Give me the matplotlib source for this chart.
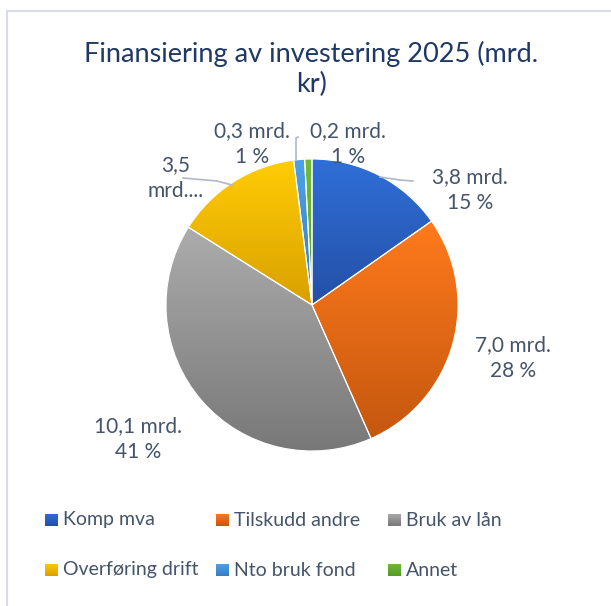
import numpy as np
import matplotlib
matplotlib.use('Agg')
import matplotlib.pyplot as plt
import matplotlib.patches as patches
from matplotlib.colors import LinearSegmentedColormap

plt.rcParams['font.family'] = ['Lato', 'DejaVu Sans']

# data
categories = ['Komp mva', 'Tilskudd andre', 'Bruk av lån',
              'Overføring drift', 'Nto bruk fond', 'Annet']
values = [3.8, 7.0, 10.1, 3.5, 0.3, 0.2]
value_labels = ['3,8 mrd.\n15 %', '7,0 mrd.\n28 %', '10,1 mrd.\n41 %',
                '3,5\nmrd....', '0,3 mrd.\n1 %', '0,2 mrd.\n1 %']
title = 'Finansiering av investering 2025 (mrd.\nkr)'

# gradient colours per slice (top, bottom)
grad = [('#2f6fd8', '#2450a6'),
        ('#ff7a1c', '#c4570f'),
        ('#acacac', '#787878'),
        ('#ffcc05', '#d9a000'),
        ('#4ea2e8', '#377dc4'),
        ('#72bb3a', '#559a28')]
txt_col = '#44546a'
W, H = 611, 606

fig = plt.figure(figsize=(W / 100, H / 100), dpi=100)
ax = fig.add_axes([0, 0, 1, 1])


def fill_grad(patch, c1, c2):
    cmap = LinearSegmentedColormap.from_list('g', [c2, c1])
    bb = patch.get_path().get_extents(patch.get_patch_transform())
    g = np.linspace(0, 1, 256).reshape(-1, 1)
    im = ax.imshow(g, cmap=cmap, origin='lower', aspect='auto',
                   extent=(bb.x0, bb.x1, bb.y0, bb.y1), zorder=1)
    im.set_clip_path(patch)
    patch.set_facecolor('none')
    patch.set_zorder(2)


cx, cy, R = 312, H - 305, 146
wedges, _ = ax.pie(values, center=(cx, cy), radius=R, startangle=90,
                   counterclock=False, frame=True,
                   wedgeprops=dict(linewidth=0.8, edgecolor='white'))

for w, (c1, c2) in zip(wedges, grad):
    fill_grad(w, c1, c2)

# data labels (layout positions in pixels)
label_pos = [(470, 190), (513, 358), (138, 439), (176, 178), (252, 144), (348, 144)]
for (x, y), s in zip(label_pos, value_labels):
    ax.text(x, H - y, s, ha='center', va='center', fontsize=15,
            color=txt_col, linespacing=1.4)

lc = '#aeb8c8'
ax.plot([380, 400, 413], [H - 177, H - 180, H - 181], color=lc, lw=1.2)
ax.plot([296, 296, 298], [H - 160, H - 138, H - 137], color=lc, lw=1.2)
ax.plot([183, 217, 232], [H - 178, H - 181, H - 185], color=lc, lw=1.2)

ax.text(W / 2 + 6, H - 69, title, ha='center', va='center', fontsize=19.5,
        color='#1f3864', linespacing=1.25)

# legend
col_x = [45, 216, 388]
row_y = [520, 570]
for i, (name, (c1, c2)) in enumerate(zip(categories, grad)):
    x = col_x[i % 3]
    y = row_y[i // 3]
    sq = patches.Rectangle((x, H - y - 6.5), 13, 13, edgecolor='none')
    ax.add_patch(sq)
    fill_grad(sq, c1, c2)
    ax.text(x + 18, H - y, name, ha='left', va='center', fontsize=14,
            color=txt_col)

# chart border
ax.add_patch(patches.Rectangle((6.5, -20), 700, H - 10.5 + 20, fill=False,
                               edgecolor='#d9dce6', lw=1.5))

ax.set_xlim(0, W)
ax.set_ylim(0, H)
ax.set_aspect('auto')
ax.axis('off')

fig.savefig('out.png', dpi=100)
